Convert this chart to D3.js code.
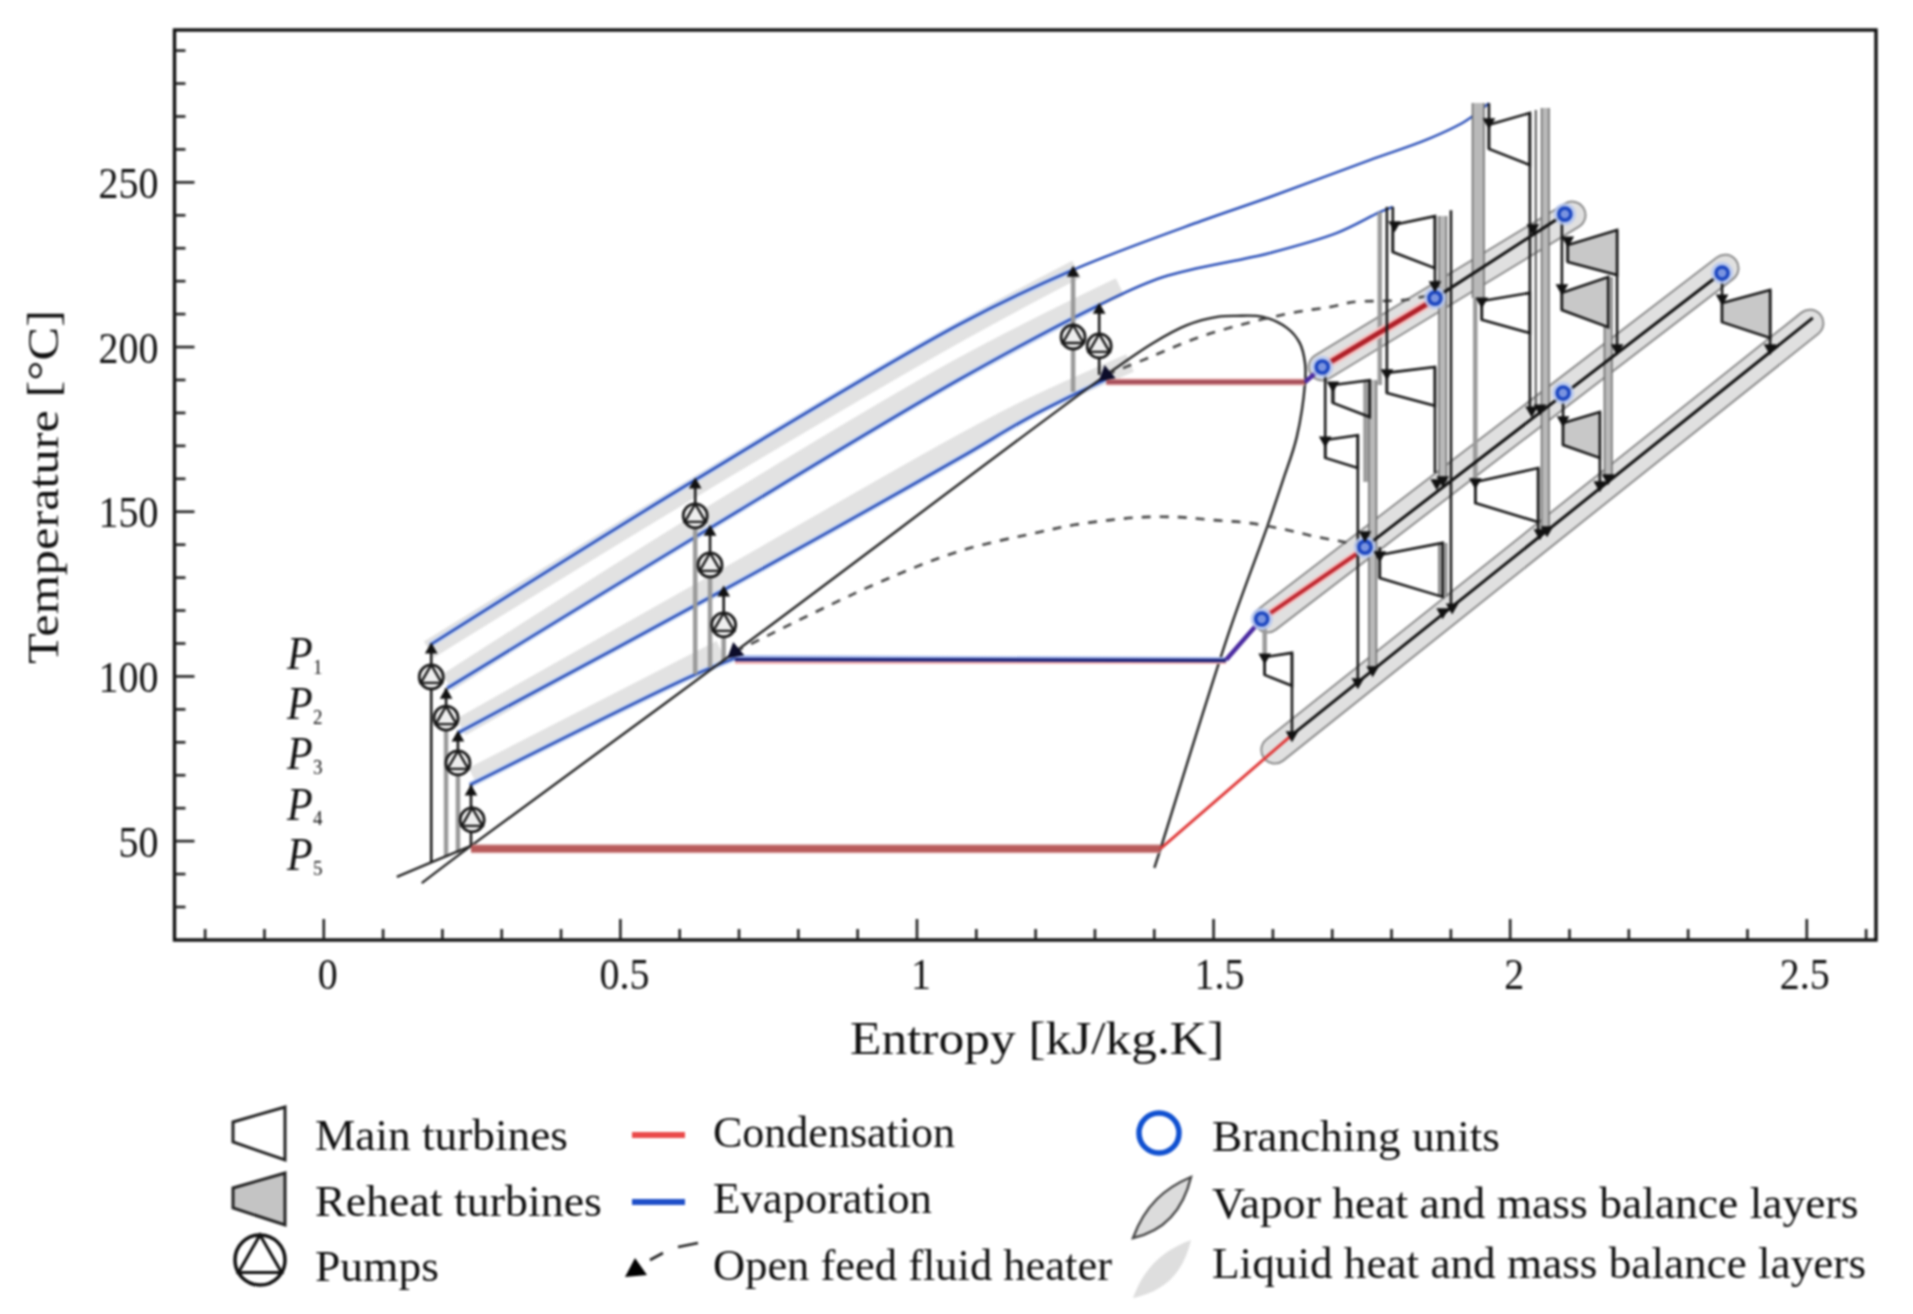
<!DOCTYPE html>
<html><head><meta charset="utf-8">
<script src="https://cdnjs.cloudflare.com/ajax/libs/d3/7.8.5/d3.min.js"></script>
<style>html,body{margin:0;padding:0;background:#fff}svg{display:block;filter:blur(.8px)}
text{font-family:"Liberation Serif",serif;fill:#111}</style></head><body>
<svg id="c" width="1913" height="1314"></svg>
<script>
// ---- axis ticks
const xMajor=[0,0.5,1,1.5,2,2.5];
const xMinor=[-0.2,-0.1,0.1,0.2,0.3,0.4,0.6,0.7,0.8,0.9,1.1,1.2,1.3,1.4,1.6,1.7,1.8,1.9,2.1,2.2,2.3,2.4,2.6];
const yMajor=[50,100,150,200,250];
const yMinor=[30,40,60,70,80,90,110,120,130,140,160,170,180,190,210,220,230,240,260,270,280,290];
// ---- saturation dome and low-pressure tail [entropy, temperature]
const dome=[[.166,37.1],[.249,48.4],[.694,107.3],[1.320,191.4],[1.399,201.1],[1.456,206.5],[1.507,209.0],[1.539,209.3],[1.584,209.0],[1.625,205.6],[1.646,201.1],[1.655,195.0],[1.655,189.0],[1.641,172.5],[1.618,159.5],[1.591,145.2],[1.528,113.9],[1.411,47.3],[1.401,41.7]];
const tail=[[.124,39.0],[.183,43.5],[.249,48.4]];
// ---- evaporation curves of the four pressure levels
const evapP1=[[.180,109.4],[.627,159.5],[1.073,206.8],[1.267,223.5],[1.480,238.1],[1.596,245.4],[1.764,256.6],[1.860,262.8],[1.925,268.4],[1.965,273.9]];
const evapP2=[[.209,96.3],[.652,144.9],[1.073,190.1],[1.308,212.6],[1.416,221.1],[1.596,228.4],[1.709,234.5],[1.781,240.8],[1.803,242.4]];
const evapP3=[[.227,82.7],[.675,126.1],[1.073,166.2],[1.191,178.6],[1.320,190.1]];
const evapP4=[[.247,66.9],[.618,99.7],[.694,105.4]];
const plateauBlue=[[.694,105.6],[1.522,105.0]];
const plateauRed=[[.694,104.4],[1.522,104.4]];
const plateauP3=[[1.320,189.2],[1.655,189.2]];
const plateauP5=[[.249,47.5],[1.411,47.5]];
// ---- condensation / superheat segments
const redP5=[[1.411,47.5],[1.633,82.1]];
const purpleP4=[[1.522,104.9],[1.582,117.3]];
const redP4=[[1.582,117.3],[1.744,137.3]];
const purpleP3=[[1.655,189.2],[1.684,193.8]];
const redP3=[[1.684,193.8],[1.866,213.5]];
const vaporP5=[[1.633,82.1],[2.511,208.7]];
const vaporP4=[[1.756,139.1],[2.346,220.8]];
const vaporP3=[[1.874,214.7],[2.093,240.2]];
// ---- heat and mass balance layers
const vaporLayers=[
 {pts:[[1.604,77.5],[2.506,207.1]]},
 {pts:[[1.592,117.3],[2.363,223.8]]},
 {pts:[[1.684,193.8],[2.105,239.9]]}];
const liquidLayers=[
 [[.178,108],[.627,157.5],[1.073,204.5],[1.270,223.5]],
 [[.209,98],[.652,148.5],[1.073,193.5],[1.343,218.1]],
 [[.232,84.5],[.675,129.5],[1.073,170.2],[1.191,181.3],[1.360,195]],
 [[.252,69.5],[.670,108]]];
// ---- open feed heater dashed curves
const dashHigh=[[1.320,191.4],[1.394,196.8],[1.473,202.6],[1.557,207.1],[1.641,210.5],[1.697,212.0],[1.736,213.5],[1.820,214.1],[1.866,215.6]];
const dashLow=[[.694,107.3],[.927,127.6],[1.073,137.9],[1.208,143.7],[1.264,145.8],[1.326,147.3],[1.382,148.2],[1.444,148.2],[1.500,147.3],[1.562,146.4],[1.625,144.3],[1.675,142.2],[1.719,140.7],[1.756,139.1]];
// ---- turbines [sLeft, sRight, tTopLeft, tBottomLeft, tTopRight, tBottomRight]
const mainTurbines=[[1.965,2.034,267.3,260.0,270.9,255.1],[1.953,2.034,213.8,208.1,216.3,204.1],[1.942,2.048,158.9,152.5,163.1,146.7],[1.803,1.874,236.9,228.7,239.6,223.8],[1.793,1.874,192.0,185.9,193.8,182.0],[1.702,1.764,188.3,182.9,189.8,178.6],[1.689,1.744,171.6,166.2,173.1,163.1],[1.781,1.887,136.7,129.7,140.4,124.0],[1.587,1.633,105.7,100.3,107.0,97.0]];
const reheatTurbines=[[2.098,2.181,230.8,225.7,235.4,221.7],[2.088,2.166,216.3,211.1,221.1,205.9],[2.090,2.152,176.8,170.1,180.1,166.2],[2.358,2.439,213.2,207.4,217.2,202.6]];
// ---- vertical flows [s, tTop, tBottom]
const flowBlack=[[.182,109.4,43.5],[.207,96.3,87.2],[.227,82.7,73.6],[.249,66.9,48.4],[.627,159.5,148.6],[.652,144.9,133.7],[.675,126.1,115.5],[1.308,212.6,191.4],
 [1.965,273.9,260],[2.034,270.9,181.6],[1.793,242.4,185.9],[1.803,242.4,228.7],[1.874,239.6,218.7],[1.874,193.5,161.6],[1.901,241.4,120.6],[1.744,173.1,98.2],[1.689,192.3,166.2],[1.587,105.7,100.3],[1.633,107,82.1],[1.781,139.1,129.7],[2.048,163.1,143.7],[1.942,158.9,152.5],[1.953,213.8,208.1],[2.088,240.2,211.1],[2.181,235.4,199.9],[2.152,180.1,158],[2.090,185.9,170.1],[2.358,222.3,207.4],[2.439,217.2,199.6]];
const flowThin=[[2.044,271.8,181.6]];
const flowGray=[[.207,87.2,45.0],[.227,73.6,46.2],[.627,148.6,100.5],[.652,133.7,102.5],[.675,115.5,104.5],[1.264,223.5,186.2],[1.942,214.7,160.1],[1.781,240.8,188.3],[1.757,189.8,158.9],[1.702,188.3,182.9],[1.587,114.9,105.7],[2.098,233,225.7]];
const flowThick=[[2.060,272.4,143.4],[1.887,239.6,158.9],[1.887,140.4,124.0],[1.769,189.8,101.8],[2.166,221.1,160.1]];
const flowWide=[[1.947,273.9,214.7]];
// ---- symbols
const pumps=[[.182,99.7],[.207,87.2],[.227,73.6],[.251,56.3],[.627,148.6],[.652,133.7],[.675,115.5],[1.264,202.9],[1.308,200.2]];
const branches=[[1.684,193.8],[1.874,214.7],[2.093,240.2],[2.090,185.9],[2.358,222.3],[1.756,139.1],[1.582,117.3]];
const arrowsUp=[[.182,107.9],[.207,94.2],[.227,81.2],[.249,64.8],[.627,158],[.652,143.7],[.675,125.2],[1.264,222.3],[1.308,211.1]];
const arrowsDown=[[1.965,268.2],[1.953,213.8],[1.942,158.9],[1.806,236.9],[1.793,192],[1.702,188.3],[1.689,171.6],[1.781,136.7],[1.587,105.7],[2.098,232.3],[2.088,217.8],[2.090,177.7],[2.358,214.7],
 [2.039,236],[1.874,218.7],[2.037,180.7],[2.051,181.3],[1.877,158.6],[1.887,159.5],[2.181,199.6],[1.744,98.2],[1.769,101.8],[1.887,119.4],[1.903,120.9],[2.051,143.4],[2.063,144.3],[2.152,158],[2.166,160.1],[2.439,199.6],[1.633,82.1],[1.756,142.8]];
const feedHeaters=[[.694,107.3],[1.320,191.4]];
// ---- labels
const pressureLabels=["1","2","3","4","5"];
const legendLeft=["Main turbines","Reheat turbines","Pumps"];
const legendMid=["Condensation","Evaporation","Open feed fluid heater"];
const legendRight=["Branching units","Vapor heat and mass balance layers","Liquid heat and mass balance layers"];

const svg=d3.select('#c');
const x=d3.scaleLinear().domain([-0.2508,2.6175]).range([174.5,1876]);
const y=d3.scaleLinear().domain([19.83,296.1]).range([940,30]);
const line=d3.line().x(d=>x(d[0])).y(d=>y(d[1]));
const closed=d3.line().x(d=>x(d[0])).y(d=>y(d[1])).curve(d3.curveLinearClosed);
const smooth=d3.line().x(d=>x(d[0])).y(d=>y(d[1])).curve(d3.curveCatmullRom.alpha(.5));
const g=svg.append('g');
function path(d,gen,stroke,w,extra={}){const p=g.append('path').attr('d',gen(d)).attr('fill','none').attr('stroke',stroke).attr('stroke-width',w);for(const k in extra)p.attr(k,extra[k]);return p;}

// liquid layers
liquidLayers.forEach(d=>path(d,smooth,'#e2e2e2',19,{'stroke-linecap':'butt'}));
// vapor layers
vaporLayers.forEach(l=>{path(l.pts,line,'#8c8c8c',29,{'stroke-linecap':'round'});path(l.pts,line,'#e0e0e0',25,{'stroke-linecap':'round'});});

// evaporation curves: pale halo only where a liquid layer is present
[evapP1.slice(0,4),evapP2.slice(0,4),evapP3,evapP4].forEach(d=>{path(d,smooth,'#c5d4f2',6);});
[evapP1,evapP2,evapP3,evapP4].forEach(d=>{path(d,smooth,'#2a4fb8',2.5);});

// vertical flows
flowWide.forEach(v=>{const a=[[v[0],v[1]],[v[0],v[2]]];path(a,line,'#6a6a6a',13);path(a,line,'#b9b9b9',10);});
flowThick.forEach(v=>{const a=[[v[0],v[1]],[v[0],v[2]]];path(a,line,'#6a6a6a',9);path(a,line,'#b9b9b9',6);});
flowGray.forEach(v=>path([[v[0],v[1]],[v[0],v[2]]],line,'#9a9a9a',4.5));
flowThin.forEach(v=>path([[v[0],v[1]],[v[0],v[2]]],line,'#555',2));

// dome
path(tail,line,'#222',2.4);
path(dome,smooth,'#222',2.4);
path(dashHigh,smooth,'#444',2.6,{'stroke-dasharray':'9 9'});
path(dashLow,smooth,'#444',2.6,{'stroke-dasharray':'9 9'});

// plateaus
path(plateauP5,line,'#d9a0a0',9);
path(plateauP5,line,'#b85a5a',6.5);
path(plateauRed,line,'#f3b0b0',5);
path(plateauBlue,line,'#a9bdf0',5);
path([[.694,105],[1.522,104.7]],line,'#1c2378',3.6);
path(plateauP3,line,'#f0b8b8',7);
path(plateauP3,line,'#a8505a',4.5);
// red, purple
path(redP5,line,'#e03a3a',3);
path(redP4,line,'#f5c0c0',8);path(redP4,line,'#c02830',4);
path(redP3,line,'#f5c0c0',10);path(redP3,line,'#b02028',5);
path(purpleP4,line,'#4a2aa0',4.5);
path(purpleP3,line,'#4a2aa0',4.5);
// vapor lines
[vaporP5,vaporP4,vaporP3].forEach(d=>path(d,line,'#111',3));

// flows black
flowBlack.forEach(v=>path([[v[0],v[1]],[v[0],v[2]]],line,'#1a1a1a',2.6));

// turbines
const turbine=d=>[[d[0],d[2]],[d[1],d[4]],[d[1],d[5]],[d[0],d[3]]];
mainTurbines.forEach(d=>path(turbine(d),closed,'#1a1a1a',2.6));
reheatTurbines.forEach(d=>path(turbine(d),closed,'#1a1a1a',2.6,{fill:'#c8c8c8'}));

// branching units
branches.forEach(d=>{g.append('circle').attr('cx',x(d[0])).attr('cy',y(d[1])).attr('r',11).attr('fill','#b4c6f0').attr('opacity',.85);
 g.append('circle').attr('cx',x(d[0])).attr('cy',y(d[1])).attr('r',6).attr('fill','#7a94e0').attr('stroke','#1d47c0').attr('stroke-width',3.6);});

// pumps
function pump(par,cx,cy,r,sw,fill){const t=par.append('g').attr('transform',`translate(${cx},${cy})`);
 t.append('circle').attr('r',r).attr('fill',fill).attr('stroke','#1a1a1a').attr('stroke-width',sw);
 const a=Math.PI/6;t.append('path').attr('d',`M0,${-r}L${r*Math.cos(a)},${r*Math.sin(a)}L${-r*Math.cos(a)},${r*Math.sin(a)}Z`).attr('fill','none').attr('stroke','#1a1a1a').attr('stroke-width',sw*.85);}
pumps.forEach(d=>pump(g,x(d[0]),y(d[1]),12,2.8,'#eee'));

// arrows
const tri=d3.symbol().type(d3.symbolTriangle);
arrowsUp.forEach(d=>g.append('path').attr('d',tri.size(70)()).attr('transform',`translate(${x(d[0])},${y(d[1])})`).attr('fill','#111'));
arrowsDown.forEach(d=>g.append('path').attr('d',tri.size(70)()).attr('transform',`translate(${x(d[0])},${y(d[1])}) rotate(180)`).attr('fill','#111'));
feedHeaters.forEach(d=>g.append('path').attr('d',tri.size(130)()).attr('transform',`translate(${x(d[0])},${y(d[1])}) rotate(-130)`).attr('fill','#0d0d2a'));

// frame + axes
svg.append('rect').attr('x',174.5).attr('y',30).attr('width',1701.5).attr('height',910).attr('fill','none').attr('stroke','#111').attr('stroke-width',3.4);
function styleAxis(a){a.select('.domain').remove();a.selectAll('line').attr('stroke','#222').attr('stroke-width',2.6);}
const labelNudge=new Map([[1.5,6],[2.5,-2]]);
const axB=svg.append('g').attr('transform','translate(0,940)').call(d3.axisBottom(x).tickValues(xMajor).tickSize(-21).tickFormat(d3.format('~g')));
styleAxis(axB);
axB.selectAll('text').attr('y',0).attr('dy',0).attr('font-size',40).attr('fill','#111').attr('font-family','Liberation Serif').attr('text-anchor','middle').attr('transform',d=>`translate(${labelNudge.get(d)??4},49) scale(1,1.12)`);
const axBm=svg.append('g').attr('transform','translate(0,940)').call(d3.axisBottom(x).tickValues(xMinor).tickSize(-11).tickFormat(''));styleAxis(axBm);
const axL=svg.append('g').attr('transform','translate(174.5,0)').call(d3.axisLeft(y).tickValues(yMajor).tickSize(-20).tickFormat(d3.format('d')));
styleAxis(axL);
axL.selectAll('text').attr('x',0).attr('dy',0).attr('font-size',40).attr('fill','#111').attr('font-family','Liberation Serif').attr('text-anchor','end').attr('transform','translate(-16,15.5) scale(1,1.12)');
const axLm=svg.append('g').attr('transform','translate(174.5,0)').call(d3.axisLeft(y).tickValues(yMinor).tickSize(-11).tickFormat(''));styleAxis(axLm);

// text helper
function label(s,px,py,len,size=40,sy=1.12,extra={}){const t=svg.append('text').attr('transform',`translate(${px},${py}) scale(1,${sy})`).attr('font-size',size).text(s);
 if(len)t.attr('textLength',len).attr('lengthAdjust','spacingAndGlyphs');for(const k in extra)t.attr(k,extra[k]);return t;}
label('Entropy [kJ/kg.K]',850,1054,374,42);
svg.append('text').attr('transform','translate(58,664) rotate(-90) scale(1.12,1)').attr('font-size',44).attr('textLength',316).attr('lengthAdjust','spacingAndGlyphs').text('Temperature [°C]');

// pressure labels
pressureLabels.forEach((p,i)=>{const by=669+i*50.2;
 label('P',287,by,null,42,1.08,{'font-style':'italic'});
 label(p,313,by+5,null,19,1.08);});

// legend
const lefts=[[253,1149.5],[287,1216],[124,1280.5]];
legendLeft.forEach((s,i)=>label(s,315,lefts[i][1],lefts[i][0],39));
const mids=[[242,1146.5],[219,1212.5],[399,1279.5]];
legendMid.forEach((s,i)=>label(s,713,mids[i][1],mids[i][0],39));
const rights=[[288,1150.5],[646.5,1217.5],[654,1277.5]];
legendRight.forEach((s,i)=>label(s,1212,rights[i][1],rights[i][0],39));

const lg=svg.append('g');
lg.append('path').attr('d','M285,1107L285,1160L233,1142L233,1122Z').attr('fill','none').attr('stroke','#222').attr('stroke-width',3);
lg.append('path').attr('d','M285,1173L285,1225L233,1208L233,1188Z').attr('fill','#c4c4c4').attr('stroke','#222').attr('stroke-width',3);
const lp=lg.append('g').attr('transform','translate(260,1260)');
lp.append('ellipse').attr('rx',25).attr('ry',25).attr('fill','none').attr('stroke','#111').attr('stroke-width',3.5);
lp.append('path').attr('d','M0,-25L21.6,12.5L-21.6,12.5Z').attr('fill','none').attr('stroke','#111').attr('stroke-width',3);
lg.append('line').attr('x1',632).attr('x2',685).attr('y1',1135).attr('y2',1135).attr('stroke','#ea4a4a').attr('stroke-width',6);
lg.append('line').attr('x1',632).attr('x2',685).attr('y1',1202).attr('y2',1202).attr('stroke','#1f4fc8').attr('stroke-width',6);
lg.append('path').attr('d','M625,1277L647,1275L635,1258Z').attr('fill','#000');
lg.append('path').attr('d','M650,1260L663,1253M678,1247L698,1243').attr('stroke','#222').attr('stroke-width',2.6).attr('fill','none');
lg.append('circle').attr('cx',1159).attr('cy',1133).attr('r',20).attr('fill','none').attr('stroke','#1050d0').attr('stroke-width',5.5);
lg.append('path').attr('d','M1191,1177C1165,1188 1145,1205 1133,1238C1160,1232 1182,1215 1191,1177Z').attr('fill','#dcdcdc').attr('stroke','#444').attr('stroke-width',2.4);
lg.append('path').attr('d','M1191,1240C1165,1250 1145,1265 1133,1298C1160,1292 1182,1278 1191,1240Z').attr('fill','#dedede');
</script></body></html>
